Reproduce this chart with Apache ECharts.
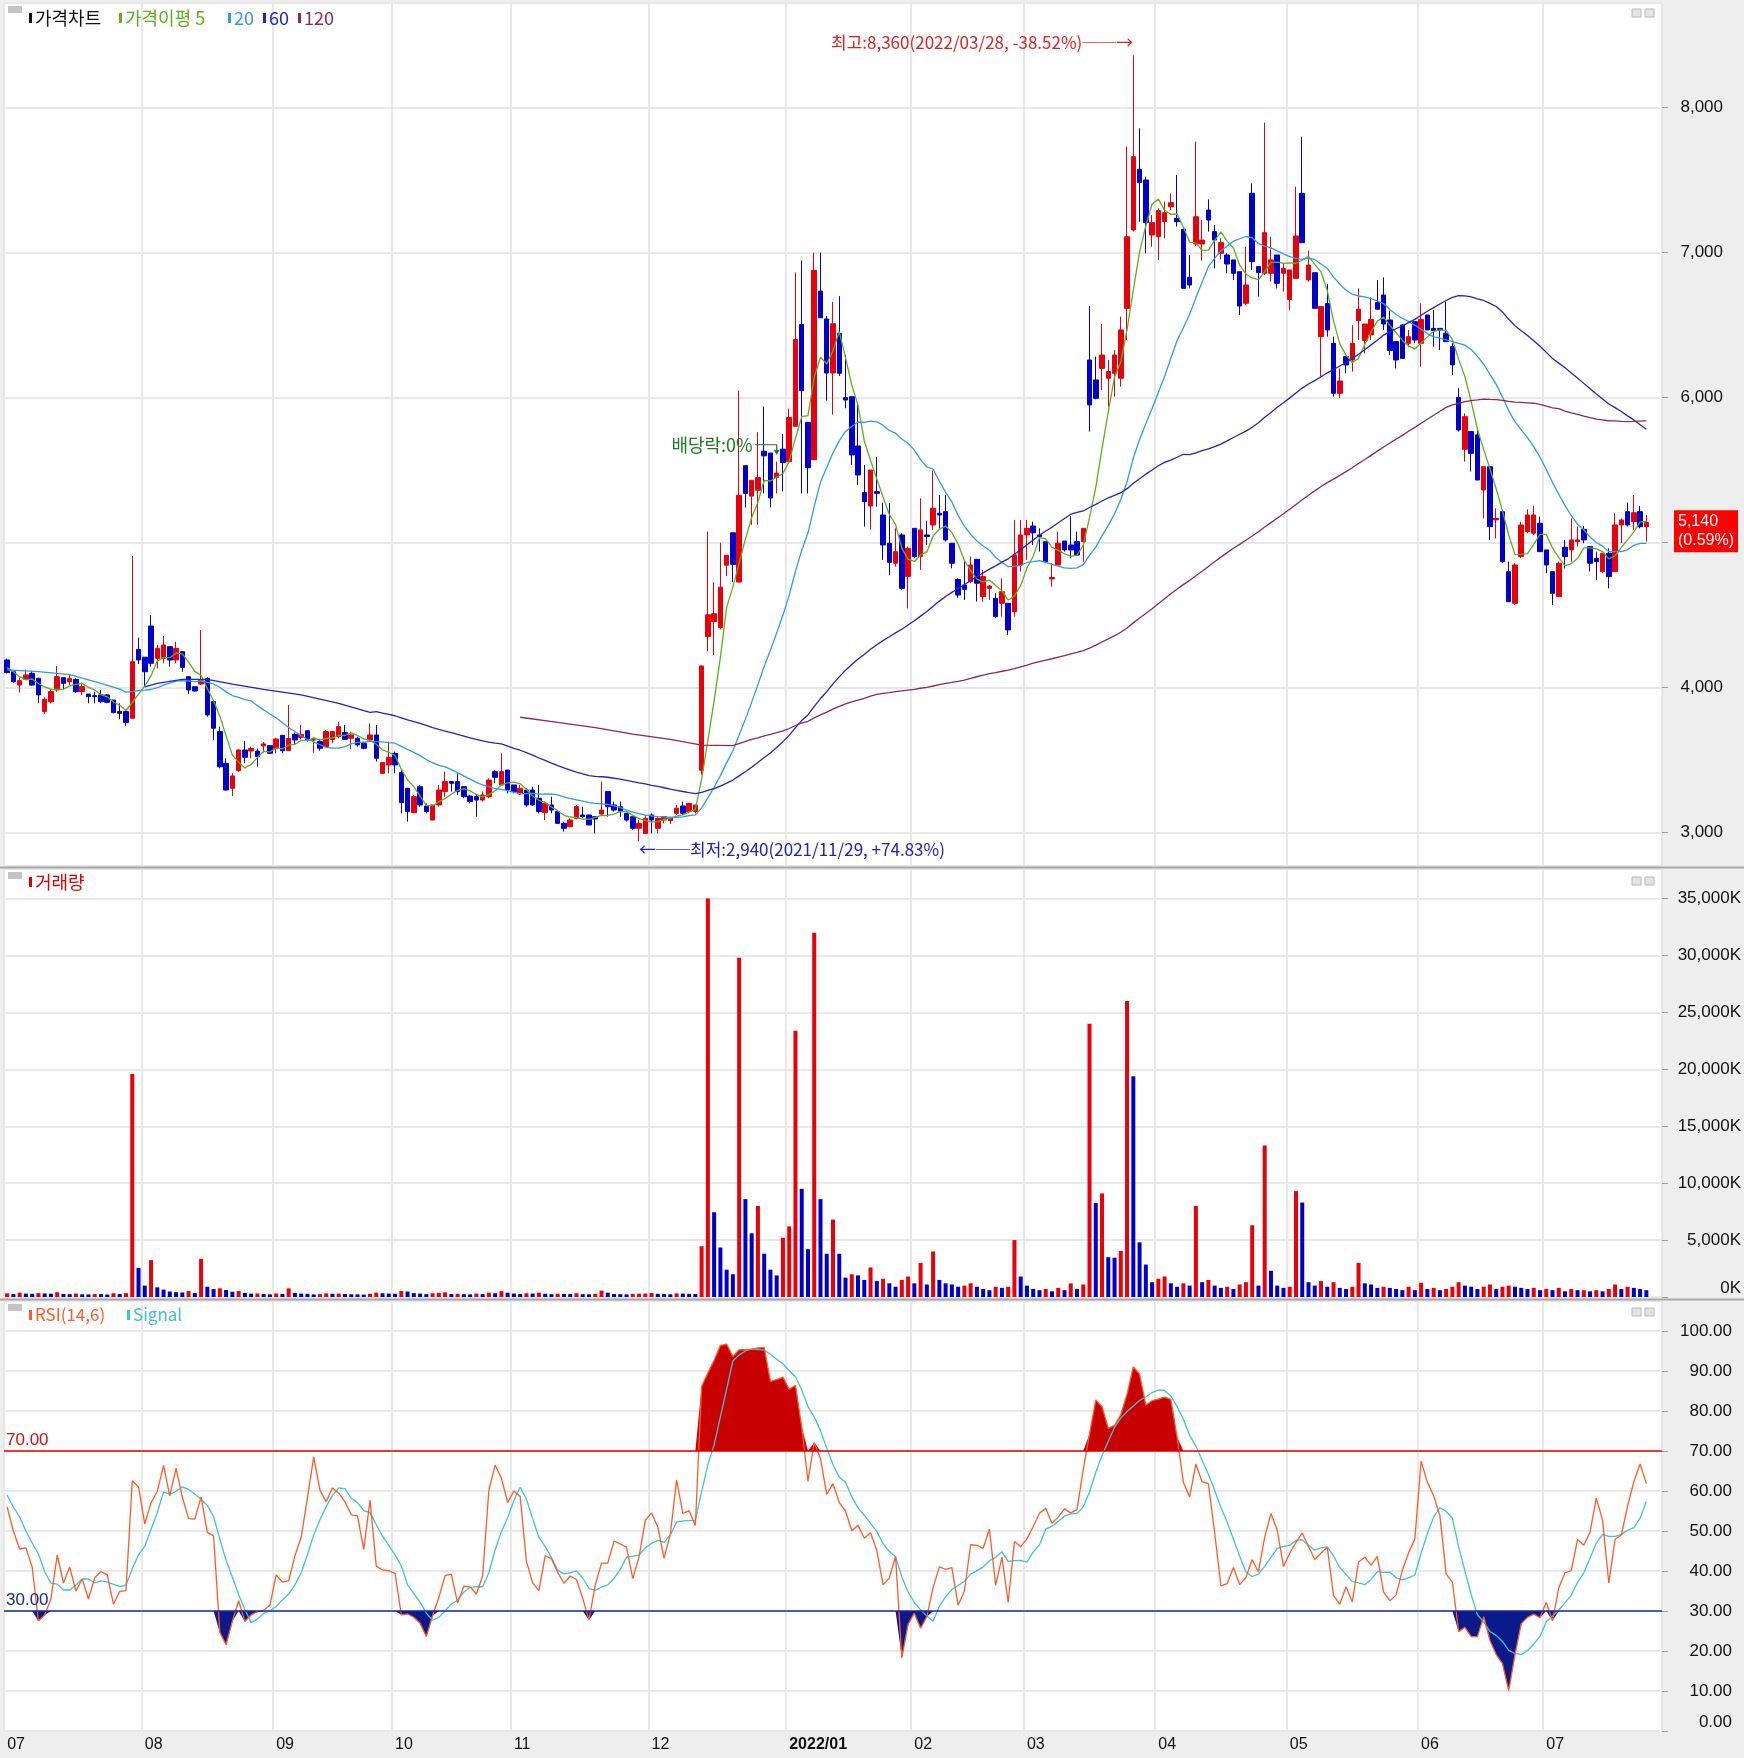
<!DOCTYPE html>
<html><head><meta charset="utf-8">
<script src="https://cdn.jsdelivr.net/npm/echarts@6/dist/echarts.min.js"></script>
<style>html,body{margin:0;padding:0;background:#eeeeee}#c{width:1744px;height:1758px}</style>
</head><body><div id="c"></div><script>
// ---------- DATA ----------
const firstDay = '2021-07-01';
const tradingDays = 263;
const holidays = ['2021-08-16','2021-09-20','2021-09-21','2021-09-22','2021-10-04','2021-10-11','2021-12-31',
  '2022-01-31','2022-02-01','2022-02-02','2022-03-01','2022-03-09','2022-05-05','2022-06-01','2022-06-06'];

const opens = [
 4191,4110,4018,4058,4099,4065,3835,3903,3984,4069,4041,4057,3972,3956,3945,3950,3950,3915,3835,3835,3789,4264,
 4210,4425,4202,4202,4283,4191,4248,4076,4007,4025,4064,3904,3697,3478,3306,3427,3570,3563,3563,3598,3600,
 3581,3671,3565,3678,3657,3703,3639,3628,3593,3643,3662,3690,3651,3651,3616,3639,3674,3409,3467,
 3547,3414,3306,3138,3317,3184,3087,3191,3283,3352,3352,3317,3253,3248,3225,3248,3421,3329,3432,
 3329,3267,3294,3294,3237,3138,3191,3145,3064,3041,3099,3122,3122,3110,3128,3283,3191,3179,3133,3110,3030,2995,
 3122,3030,3087,3083,3133,3184,3145,3145,3430,4352,4456,4415,4845,5068,4728,5531,5321,5362,5631,5618,5449,5645,
 5558,5803,6505,5830,5572,6735,6543,6170,6444,6000,6007,5667,5345,5253,5352,5191,4996,4858,5053,4766,
 5099,4904,5053,5122,5203,5214,4996,4747,4708,4731,4885,4628,4685,4616,4582,4582,4524,4846,
 5053,5115,5053,5007,4750,4846,5011,4984,5007,5007,6260,6122,6202,6134,6168,6134,6616,7157,7575,7501,7122,
 7110,7214,7317,7237,7161,6830,7060,7060,7294,7145,6996,6984,6950,6869,6651,7410,6904,6858,6858,6984,6858,
 6677,6823,7409,6812,6862,6421,6650,6375,6030,6283,6260,6531,6394,6433,6655,6708,6536,6387,6501,6375,6524,
 6375,6570,6478,6478,6444,6352,6002,5644,5766,5743,5363,5524,5157,5214,4800,4582,4904,5076,5065,5134,
 4950,4800,4628,4968,4950,5007,5092,4973,4892,4800,4927,4800,5122,5214,5145,5214,5110];
const highs = [
 4200,4115,4071,4126,4110,4065,3933,3990,4149,4069,4087,4064,4035,3956,3972,3984,3956,3915,3892,3846,4908,4345,
 4210,4501,4294,4356,4283,4317,4248,4076,4007,4398,4071,3904,3731,3513,3409,3575,3632,3593,3581,3625,3600,
 3651,3671,3880,3690,3742,3703,3655,3643,3708,3697,3765,3743,3697,3662,3628,3754,3743,3483,3628,
 3559,3432,3306,3260,3329,3202,3191,3329,3421,3352,3409,3317,3260,3260,3283,3375,3432,3547,3432,
 3329,3329,3306,3317,3329,3214,3248,3145,3076,3099,3191,3179,3122,3110,3352,3283,3214,3214,3133,3110,3087,3122,
 3133,3110,3110,3110,3191,3214,3202,3191,4150,5076,4727,5000,4913,5068,6048,5531,5430,5762,5939,5618,5558,5749,
 5925,6864,6946,5830,7000,7000,6564,6660,6700,6295,6007,5961,5536,5501,5593,5276,5272,5099,5065,4973,
 5099,5306,5152,5497,5329,5329,4996,4754,4869,4904,4885,4812,4708,4651,4754,4582,5157,5157,
 5157,5145,5099,5007,4858,5076,5011,5184,5076,5099,6632,6283,6508,6260,6329,6559,7731,8360,7858,7524,7260,
 7306,7352,7409,7536,7168,6984,7766,7225,7368,7191,7099,6996,6950,6869,7041,7478,6904,7897,7110,6984,6927,
 6881,7455,7800,7014,6862,6628,6784,6421,6202,6283,6501,6754,6508,6692,6811,6830,6600,6387,6508,6467,6524,
 6651,6570,6605,6478,6662,6375,6065,5892,5766,5777,5524,5524,5237,5214,4869,4858,5145,5230,5253,5180,
 4950,4800,4869,5019,5168,5111,5115,4973,4938,4927,4961,5203,5168,5276,5329,5253,5191];
const lows = [
 4098,4035,3966,4053,4014,3892,3818,3890,3973,3984,4018,3966,3950,3892,3892,3892,3892,3823,3782,3736,3789,4163,
 4007,4145,4133,4168,4145,4168,4110,3957,3973,4018,3800,3639,3444,3290,3253,3421,3478,3513,3455,3552,3547,
 3547,3547,3565,3612,3643,3628,3552,3565,3589,3616,3651,3640,3575,3593,3575,3628,3490,3409,3409,
 3409,3133,3076,3133,3179,3133,3087,3179,3248,3283,3260,3237,3202,3110,3214,3237,3340,3329,3271,
 3271,3260,3179,3184,3133,3087,3133,3064,3007,3037,3092,3099,3053,2995,3122,3110,3145,3110,3076,3018,2940,2995,
 2995,2995,3064,3060,3122,3122,3133,3133,3400,4252,4225,4402,4769,4728,4728,5245,5123,5123,5340,5245,5340,5354,
 5544,5803,5340,5340,5572,6551,5980,5884,6150,5927,5536,5398,5111,5088,5249,4881,4777,4835,4674,4547,
 4892,4812,4984,5088,5099,5007,4823,4617,4605,4720,4593,4593,4605,4479,4490,4363,4490,4800,
 4881,4984,4938,4858,4697,4846,4938,4892,4915,4869,5766,5989,6053,5938,6007,6076,6398,7145,7214,6996,7041,
 6950,7099,7294,7180,6754,6754,7046,6945,7145,6892,6954,6858,6812,6570,6639,6880,6697,6846,6800,6754,6731,
 6605,6823,7069,6800,6616,6145,6421,6007,5996,6168,6180,6398,6306,6398,6610,6467,6294,6202,6271,6348,6375,
 6214,6467,6352,6329,6387,6157,5766,5559,5490,5432,5168,5019,5030,4858,4593,4570,4892,5065,5053,4938,
 4789,4570,4628,4823,4869,4973,4996,4800,4743,4789,4685,4800,4996,5111,5088,5099,5007];
const closes = [
 4104,4041,4048,4088,4018,3950,3920,3973,4076,4030,4064,3972,4007,3938,3938,3903,3899,3828,3823,3759,4179,4191,
 4110,4168,4271,4294,4191,4271,4140,3984,3977,4053,3812,3720,3455,3294,3391,3570,3520,3581,3524,3612,3547,
 3646,3565,3650,3639,3678,3639,3651,3582,3697,3697,3731,3644,3674,3605,3582,3674,3513,3483,3520,
 3467,3207,3145,3248,3191,3145,3191,3294,3352,3340,3283,3248,3214,3225,3260,3363,3382,3421,3294,
 3283,3306,3191,3191,3145,3202,3156,3064,3030,3087,3179,3110,3053,3094,3156,3179,3156,3145,3087,3030,3064,3099,
 3087,3099,3110,3103,3168,3133,3202,3191,4150,4502,4510,4693,4913,4850,5327,5340,5430,5449,5599,5308,5480,5552,
 5863,6401,6048,5517,6878,6551,6170,6510,6168,5984,5605,5467,5283,5501,5340,4984,4864,4938,4685,4961,
 4904,5088,5042,5237,5191,5019,4858,4639,4678,4846,4720,4766,4701,4490,4662,4398,4915,5053,
 5099,5068,5042,4869,4760,4996,4950,4950,4915,5099,5950,5996,6294,6180,6294,6467,7110,7662,7483,7207,7207,
 7290,7276,7345,7214,6754,6777,7248,7087,7225,7087,7069,6922,6858,6632,6777,6938,6862,7138,6950,6789,6892,
 6881,7115,7069,6915,6616,6628,6467,6030,6115,6226,6375,6610,6508,6540,6610,6508,6325,6260,6271,6421,6398,
 6540,6467,6463,6467,6387,6226,5777,5869,5616,5432,5524,5110,5168,4869,4593,4846,5122,5191,5191,4938,
 4846,4651,4858,4904,5019,5019,5019,4858,4869,4927,4766,5122,5157,5122,5207,5110,5140];
const volumes = [ // thousands of shares
 320,260,380,300,280,340,310,290,420,270,250,300,240,230,260,250,220,330,260,340,19600,2560,
 1000,3240,850,650,480,420,400,520,360,3350,900,700,760,620,460,520,360,290,310,260,230,
 310,270,760,360,300,280,230,250,320,280,300,260,240,230,210,280,380,330,300,
 290,520,480,340,300,250,330,360,410,260,280,250,230,300,260,380,330,520,380,
 300,260,330,300,380,290,250,280,270,260,330,250,240,280,560,380,260,250,230,270,290,300,
 350,280,260,240,320,300,280,260,4460,35000,7450,4350,2400,2000,29800,8600,5600,8000,3800,2400,1900,5200,
 6200,23400,9500,4200,32000,8600,3800,6800,3800,1700,2000,1900,1500,2600,1400,1600,1200,900,1500,1800,
 1200,3000,1100,4000,1500,1200,1100,900,1000,1200,900,700,600,900,800,900,5000,1800,
 1000,700,600,700,500,800,600,1200,700,1100,24000,8250,9100,3500,3450,4050,26000,19400,4800,2850,1300,
 1600,1800,1200,900,1200,1000,8000,1300,1500,1000,800,900,700,1100,1300,6300,1000,13300,2300,1000,800,
 900,9300,8300,1300,1000,1400,900,1300,800,700,900,3000,1200,1100,800,900,800,700,600,900,600,
 1250,700,800,600,700,900,1300,1000,900,700,900,1100,700,900,1000,900,800,700,800,600,
 700,600,800,500,700,600,600,500,600,500,700,1100,700,900,800,700,600];

// Indicator values read off the picture where the earlier history is not shown
const ma5HeadIdx = [0,1,2,3];           const ma5HeadVal = [4138,4110,4076,4053];
const ma20HeadIdx = [0,5,10,15,18];     const ma20HeadVal = [4122,4110,4090,4030,3990];
const ma60HeadIdx = [22,24,28,32,36,41,47,53,58]; const ma60HeadVal = [4005,4030,4057,4057,4025,3988,3950,3892,3830];
const ma120HeadIdx = [82,88,94,100,106,111,116];   const ma120HeadVal = [3796,3760,3725,3680,3643,3603,3600];
const rsiHead = [56,50,45.5,45.8,41,27.5,29,33,44,37,41,35,38,33];
const signalHead = [59,56,53.5,50,47];
const exDividendDate = '2021-12-29';
const rsiPeriod = 14, signalPeriod = 6;

// ---------- derived ----------
function buildDates(){
  const out=[]; const d=new Date(Date.UTC(2021,6,1));
  while(out.length<tradingDays){
    const wd=d.getUTCDay(); const s=d.toISOString().slice(0,10);
    if(wd!==0&&wd!==6&&!holidays.includes(s)) out.push(s);
    d.setUTCDate(d.getUTCDate()+1);
  }
  return out;
}
const dates = buildDates();
const cats = dates.concat([' ','  ']);
const monthStart = cats.map((c,i)=> i<dates.length && (i===0 || c.slice(0,7)!==cats[i-1].slice(0,7)));

const candles = opens.map((o,i)=>[o, closes[i], Math.min(lows[i],o,closes[i]), Math.max(highs[i],o,closes[i])]);

function maLine(n, hIdx, hVal){
  const out = cats.map(()=>null);
  hIdx.forEach((ix,k)=>{out[ix]=hVal[k];});
  for(let i=n-1;i<closes.length;i++){let s=0;for(let k=i-n+1;k<=i;k++)s+=closes[k];out[i]=s/n;}
  return out;
}
const ma5 = maLine(5, ma5HeadIdx, ma5HeadVal);
const ma20 = maLine(20, ma20HeadIdx, ma20HeadVal);
const ma60 = maLine(60, ma60HeadIdx, ma60HeadVal);
const ma120 = maLine(120, ma120HeadIdx, ma120HeadVal);

// RSI with simple n-day averages of gains and losses
function rsiCalc(cl, n){
  const out = cl.map(()=>null);
  for(let i=n;i<cl.length;i++){
    let g=0,l=0;
    for(let k=i-n+1;k<=i;k++){const d=cl[k]-cl[k-1]; if(d>0)g+=d; else l-=d;}
    out[i] = (g+l)===0 ? 50 : 100*g/(g+l);
  }
  return out;
}
const rsi = rsiCalc(closes, rsiPeriod); rsiHead.forEach((v,i)=>{rsi[i]=v;});
const signal = rsi.map((v,i)=> i<signalPeriod-1 ? signalHead[i] : rsi.slice(i-signalPeriod+1,i+1).reduce((a,b)=>a+b,0)/signalPeriod);

// ---------- style ----------
const FONT = "'Liberation Sans','Noto Sans CJK KR',sans-serif";
const KFONT = "'Noto Sans CJK KR','Liberation Sans',sans-serif";
const UP='#e8000b', DN='#0000cc';
const C5='#5fae1e', C20='#2f9be8', C60='#2222cc', C120='#8a2a5a';
const GRIDLINE='#e8e8e8';
const fmt = v => Math.round(v).toLocaleString('en-US');
const gridBase = {left:4, width:1658, show:true, backgroundColor:'#ffffff', borderColor:'#b0b0b0', borderWidth:1};

const xAxes = [0,1,2].map(g=>({
  gridIndex:g, type:'category', data:cats, boundaryGap:true,
  axisLine:{show:false}, axisTick:{show:false},
  axisLabel: g===2 ? {
    show:true, interval:(i)=>monthStart[i], align:'left', margin:6, fontSize:16, color:'#111', fontFamily:FONT,
    formatter:(v)=> v.trim()==='' ? '' : (v.slice(5,7)==='01' ? '{b|'+v.slice(0,4)+'/01}' : v.slice(5,7)),
    rich:{b:{fontWeight:'bold', fontSize:16, color:'#111', fontFamily:FONT}}
  } : {show:false},
  splitLine:{show:true, interval:(i)=>monthStart[i], lineStyle:{color:GRIDLINE, width:2}}
}));

const option = {
  animation:false, backgroundColor:'#eeeeee',
  textStyle:{fontFamily:FONT},
  grid:[
    Object.assign({top:3, height:863}, gridBase),
    Object.assign({top:869, height:428}, gridBase),
    Object.assign({top:1301, height:430}, gridBase)
  ],
  xAxis: xAxes,
  yAxis:[
    {gridIndex:0, type:'value', position:'right', min:2770, max:8722, splitNumber:6,
     axisLine:{show:false}, axisTick:{show:true, length:6, lineStyle:{color:'#999'}},
     axisLabel:{showMinLabel:false, showMaxLabel:false, formatter:fmt, margin:61, align:'right', fontSize:17, color:'#111', fontFamily:FONT},
     splitLine:{show:true, lineStyle:{color:GRIDLINE, width:2}}},
    {gridIndex:1, type:'value', position:'right', min:0, max:37600, interval:5000,
     axisLine:{show:false}, axisTick:{show:true, length:6, lineStyle:{color:'#999'}},
     axisLabel:{showMaxLabel:false, verticalAlignMinLabel:'bottom', formatter:v=>fmt(v)+'K', margin:79, align:'right', fontSize:17, color:'#111', fontFamily:FONT},
     splitLine:{show:true, lineStyle:{color:GRIDLINE, width:2}}},
    {gridIndex:2, type:'value', position:'right', min:0, max:107.5, interval:10,
     axisLine:{show:false}, axisTick:{show:true, length:6, lineStyle:{color:'#999'}},
     axisLabel:{showMaxLabel:false, verticalAlignMinLabel:'bottom', formatter:v=>v.toFixed(2), margin:70, align:'right', fontSize:17, color:'#111', fontFamily:FONT},
     splitLine:{show:true, lineStyle:{color:GRIDLINE, width:2}}}
  ],
  series:[
    {name:'가격차트', type:'candlestick', xAxisIndex:0, yAxisIndex:0, data:candles, barWidth:5, z:2,
     itemStyle:{color:UP, color0:DN, borderColor:UP, borderColor0:DN, borderWidth:1}},
    {name:'5', type:'line', xAxisIndex:0, yAxisIndex:0, data:ma5, symbol:'none', connectNulls:true, z:3, lineStyle:{color:C5, width:1.3}},
    {name:'20', type:'line', xAxisIndex:0, yAxisIndex:0, data:ma20, symbol:'none', connectNulls:true, z:3, lineStyle:{color:C20, width:1.3}},
    {name:'60', type:'line', xAxisIndex:0, yAxisIndex:0, data:ma60, symbol:'none', connectNulls:true, z:3, lineStyle:{color:C60, width:1.3}},
    {name:'120', type:'line', xAxisIndex:0, yAxisIndex:0, data:ma120, symbol:'none', connectNulls:true, z:3, lineStyle:{color:C120, width:1.3}},
    {name:'거래량', type:'bar', xAxisIndex:1, yAxisIndex:1, barWidth:4,
     data: volumes.map((v,i)=>({value:v, itemStyle:{color: (i>0 && v<volumes[i-1]) ? DN : UP}}))},
    {name:'hi', type:'line', xAxisIndex:2, yAxisIndex:2, symbol:'none', z:2,
     data: rsi.map(v=>Math.max(v,70)), lineStyle:{opacity:0}, areaStyle:{origin:70, color:'#c80000', opacity:1}},
    {name:'lo', type:'line', xAxisIndex:2, yAxisIndex:2, symbol:'none', z:2,
     data: rsi.map(v=>Math.min(v,30)), lineStyle:{opacity:0}, areaStyle:{origin:30, color:'#0a1a8a', opacity:1}},
    {name:'RSI', type:'line', xAxisIndex:2, yAxisIndex:2, data:rsi, symbol:'none', z:4, lineStyle:{color:'#ff5a2a', width:1.3},
     markLine:{silent:true, symbol:['none','none'], data:[
       {yAxis:70, lineStyle:{color:'#e00000', width:1.5, type:'solid'}, label:{formatter:'70.00', position:'insideStartTop', color:'#d01010', fontSize:17, fontFamily:FONT, distance:[2,2]}},
       {yAxis:30, lineStyle:{color:'#1a2a9a', width:1.5, type:'solid'}, label:{formatter:'30.00', position:'insideStartTop', color:'#1a2a9a', fontSize:17, fontFamily:FONT, distance:[2,2]}}
     ]}},
    {name:'Signal', type:'line', xAxisIndex:2, yAxisIndex:2, data:signal, symbol:'none', z:3, lineStyle:{color:'#3cc4d6', width:1.3}}
  ]
};

const chart = echarts.init(document.getElementById('c'), null, {renderer:'canvas', width:1744, height:1758});
chart.setOption(option);

// ---------- annotations anchored to data via the chart's own scales ----------
const last = closes.length-1;
let hiIdx=0, loIdx=0;
highs.forEach((h,i)=>{ if(h>highs[hiIdx]) hiIdx=i; });
lows.forEach((l,i)=>{ if(l<lows[loIdx]) loIdx=i; });
const pct = (a,b)=> ((a-b)/b*100);
const sgn = v => (v>=0?'+':'')+v.toFixed(2)+'%';
const px = (i,v,g)=> chart.convertToPixel({gridIndex:g||0}, [i, v]);
const [hx, hy] = px(hiIdx, highs[hiIdx]);
const [lx, ly] = px(loIdx, lows[loIdx]);
const [cx, cy] = px(last, closes[last]);
const exIdx = dates.indexOf(exDividendDate);
const [ex, ey] = px(exIdx, highs[exIdx]);
const chg = pct(closes[last], closes[last-1]);
const gridRight = 1662;

const g = [];
function legendItem(x, y, color, text, size){
  g.push({type:'rect', shape:{x:x, y:y-5, width:3, height:10}, style:{fill:color}, z:50});
  g.push({type:'text', x:x+6, y:y, style:{text:text, fill:color, font:(size||18)+'px '+KFONT, verticalAlign:'middle'}, z:50});
}
// pane icons
[[8,6],[8,872],[8,1304]].forEach(([x,y])=>g.push({type:'rect', shape:{x:x,y:y,width:14,height:7}, style:{fill:'#c4c4c4'}, z:50}));
[9,877,1308].forEach(y=>{
  g.push({type:'rect', shape:{x:1632,y:y,width:9,height:8}, style:{fill:'#e4e4e4', stroke:'#b8b8b8', lineWidth:1}, z:50});
  g.push({type:'rect', shape:{x:1645,y:y,width:9,height:8}, style:{fill:'#e4e4e4', stroke:'#b8b8b8', lineWidth:1}, z:50});
});
// legends
legendItem(29, 18, '#111', '가격차트');
legendItem(119, 18, C5, '가격이평 5');
legendItem(228, 18, C20, '20');
legendItem(263, 18, C60, '60');
legendItem(298, 18, C120, '120');
legendItem(29, 882, '#e00000', '거래량');
legendItem(29, 1315, '#ff5a2a', 'RSI(14,6)', 17);
legendItem(127, 1315, '#3cc4d6', 'Signal', 17);
// separators
g.push({type:'line', shape:{x1:0,y1:867.5,x2:1744,y2:867.5}, style:{stroke:'#a8a8a8', lineWidth:2}, z:40});
g.push({type:'line', shape:{x1:0,y1:1299.5,x2:1744,y2:1299.5}, style:{stroke:'#a8a8a8', lineWidth:2}, z:40});
// high / low annotations
g.push({type:'text', x:hx, y:hy-13, style:{text:'최고:'+fmt(highs[hiIdx])+'('+dates[hiIdx].replace(/-/g,'/')+', '+sgn(pct(closes[last],highs[hiIdx]))+')──→',
  fill:'#e02020', font:'17px '+KFONT, align:'right', verticalAlign:'middle'}, z:50});
g.push({type:'text', x:lx, y:ly+8, style:{text:'←──최저:'+fmt(lows[loIdx])+'('+dates[loIdx].replace(/-/g,'/')+', '+sgn(pct(closes[last],lows[loIdx]))+')',
  fill:'#2020c0', font:'17px '+KFONT, align:'left', verticalAlign:'middle'}, z:50});
// ex-dividend marker
g.push({type:'text', x:ex-24, y:ey-17, style:{text:'배당락:0%', fill:'#1f7a1f', font:'18px '+KFONT, align:'right', verticalAlign:'middle'}, z:50});
g.push({type:'polyline', shape:{points:[[ex-22,ey-17],[ex,ey-17],[ex,ey-11]]}, style:{stroke:'#1f7a1f', lineWidth:1.2, fill:null}, z:50});
g.push({type:'polygon', shape:{points:[[ex-3,ey-12],[ex+3,ey-12],[ex,ey-7]]}, style:{fill:'#1f7a1f'}, z:50});
// last price box
g.push({type:'rect', shape:{x:gridRight+12, y:cy-12, width:64, height:42}, style:{fill:'#ff0000'}, z:50});
g.push({type:'text', x:gridRight+16, y:cy-10, style:{text:fmt(closes[last])+'\n('+chg.toFixed(2)+'%)', fill:'#ffffff', font:'16px '+FONT, lineHeight:19, align:'left', verticalAlign:'top'}, z:51});

chart.setOption({graphic:g});
</script></body></html>
